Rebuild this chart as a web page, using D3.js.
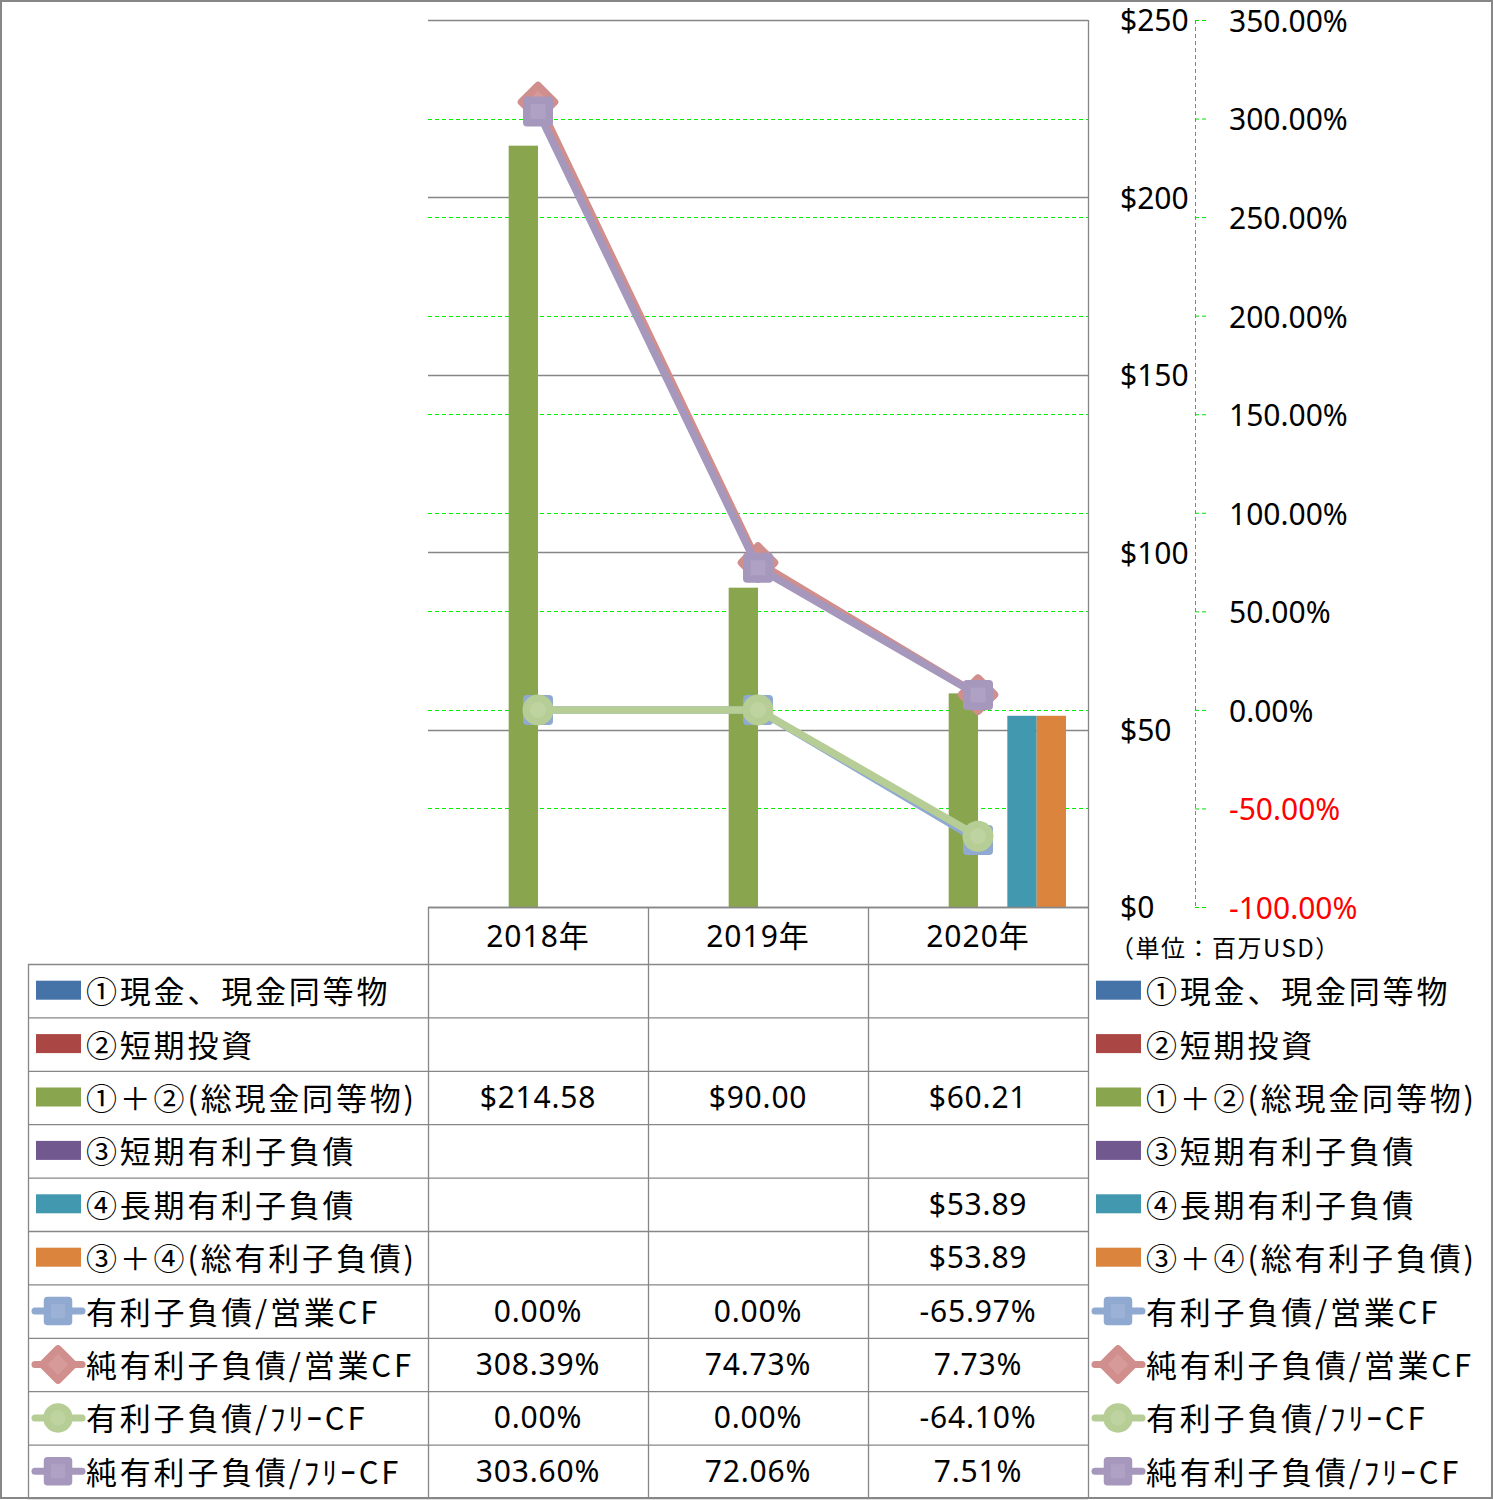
<!DOCTYPE html>
<html><head><meta charset="utf-8">
<script src="https://cdn.jsdelivr.net/npm/d3@7"></script>
<style>
body{margin:0;background:#fff;}
</style></head>
<body><svg id="c" width="1493" height="1500"></svg>
<script>
const categories = ["2018年","2019年","2020年"];
const barNames = ["①現金、現金同等物","②短期投資","①＋②(総現金同等物)","③短期有利子負債","④長期有利子負債","③＋④(総有利子負債)"];
const cashValues = [null,null,null];
const shortInvValues = [null,null,null];
const totalCashValues = [214.58,90.00,60.21];
const shortDebtValues = [null,null,null];
const longDebtValues = [null,null,53.89];
const totalDebtValues = [null,null,53.89];
const lineNames = ["有利子負債/営業CF","純有利子負債/営業CF","有利子負債/ﾌﾘｰCF","純有利子負債/ﾌﾘｰCF"];
const debtOpCF = [0.00,0.00,-65.97];
const netDebtOpCF = [308.39,74.73,7.73];
const debtFCF = [0.00,0.00,-64.10];
const netDebtFCF = [303.60,72.06,7.51];
const dollarTicks = [0,50,100,150,200,250];
const pctTicks = [-100,-50,0,50,100,150,200,250,300,350];
const unitLabel = "（単位：百万USD）";

const barColors = ["#4572A7","#AA4643","#89A54E","#71588F","#4198AF","#DB843D"];
const lineColors = ["#8FA9D0","#D08E8D","#B6CD96","#A697BD"];
const lineInner = ["#9BB2D6","#D69A99","#BED39F","#AEA1C3"];
const shapes = ["square","diamond","circle","square"];

const barData = [cashValues,shortInvValues,totalCashValues,shortDebtValues,longDebtValues,totalDebtValues];
const lineData = [debtOpCF,netDebtOpCF,debtFCF,netDebtFCF];

const LAT = "'Noto Sans', 'Noto Sans CJK JP', sans-serif";
const CJK = "'Noto Sans CJK JP', sans-serif";

const L=428,R=1088,T=20,B=907;
const svg = d3.select("#c");
const x = d3.scaleBand().domain(categories).range([L,R]);
const xi = d3.scaleBand().domain(d3.range(6)).range([22,198]);
const yL = d3.scaleLinear().domain([0,250]).range([B,T]);
const yR = d3.scaleLinear().domain([-100,350]).range([B,T]);

svg.append("g").selectAll("line").data(pctTicks).join("line")
  .attr("x1",L).attr("x2",R).attr("y1",d=>Math.round(yR(d))+0.5).attr("y2",d=>Math.round(yR(d))+0.5)
  .attr("stroke","#00F000").attr("stroke-width",1.2).attr("stroke-dasharray","4,3");
svg.append("g").selectAll("line").data(dollarTicks).join("line")
  .attr("x1",L).attr("x2",R).attr("y1",d=>Math.round(yL(d))+0.5).attr("y2",d=>Math.round(yL(d))+0.5)
  .attr("stroke","#868686").attr("stroke-width",1.3);
svg.append("line").attr("x1",R+0.5).attr("x2",R+0.5).attr("y1",T).attr("y2",B).attr("stroke","#868686").attr("stroke-width",1.3);

barData.forEach((vals,si)=>{
  svg.append("g").selectAll("rect").data(vals.map((v,i)=>({v,c:categories[i]})).filter(d=>d.v!=null)).join("rect")
    .attr("x",d=>x(d.c)+xi(si)).attr("width",xi.bandwidth())
    .attr("y",d=>yL(d.v)).attr("height",d=>yL(0)-yL(d.v))
    .attr("fill",barColors[si]);
});

function marker(g,shape,cx,cy,col,inner,scale){
  scale=scale||1;
  if(shape==="square"){
    const s=30*scale;
    g.append("rect").attr("x",cx-s/2).attr("y",cy-s/2).attr("width",s).attr("height",s).attr("rx",4*scale).attr("fill",col);
    g.append("rect").attr("x",cx-s/4).attr("y",cy-s/4).attr("width",s/2).attr("height",s/2).attr("fill",inner);
  } else if(shape==="diamond"){
    const s=31*scale;
    g.append("rect").attr("x",cx-s/2).attr("y",cy-s/2).attr("width",s).attr("height",s).attr("rx",4*scale)
      .attr("transform",`rotate(45,${cx},${cy})`).attr("fill",col);
    g.append("rect").attr("x",cx-s/4).attr("y",cy-s/4).attr("width",s/2).attr("height",s/2)
      .attr("transform",`rotate(45,${cx},${cy})`).attr("fill",inner);
  } else {
    g.append("circle").attr("cx",cx).attr("cy",cy).attr("r",15.5*scale).attr("fill",col);
    g.append("circle").attr("cx",cx).attr("cy",cy).attr("r",8*scale).attr("fill",inner);
  }
}

const line = d3.line().x((d,i)=>x(categories[i])+x.bandwidth()/2).y(d=>yR(d));
lineData.forEach((vals,si)=>{
  const g=svg.append("g");
  g.append("path").datum(vals).attr("d",line).attr("fill","none").attr("stroke",lineColors[si])
    .attr("stroke-width",7.5).attr("stroke-linejoin","round").attr("stroke-linecap","round");
  vals.forEach((v,i)=>marker(g,shapes[si],x(categories[i])+x.bandwidth()/2,yR(v),lineColors[si],lineInner[si]));
});

const axX = 1195;
const aL = svg.append("g").attr("transform",`translate(${axX},0)`)
  .call(d3.axisLeft(yL).tickValues(dollarTicks).tickSize(0).tickPadding(5).tickFormat(d=>"$"+d));
aL.select(".domain").remove();
aL.selectAll("text").attr("x",-75).attr("dy","0.36em").attr("text-anchor","start")
  .style("font-size","30px").style("font-family",LAT).style("fill","#000");
const aR = svg.append("g").attr("transform",`translate(${axX},0)`)
  .call(d3.axisRight(yR).tickValues(pctTicks).tickSize(12).tickPadding(22).tickFormat(d=>d.toFixed(2)+"%"));
aR.select(".domain").attr("stroke","#00E000").attr("stroke-dasharray","4,3").attr("d",`M0.5,${T}V${B}`);
aR.selectAll(".tick line").attr("stroke","#00E000").attr("stroke-dasharray","4,3");
aR.selectAll("text").attr("dy","0.38em").style("font-size","30px").style("font-family",LAT)
  .style("fill",d=>d<0?"#FF0000":"#000");
svg.append("text").attr("x",1110).attr("y",946).attr("dominant-baseline","central")
  .style("font-size","24px").style("font-family",CJK).style("letter-spacing","1.5px").text(unitLabel);

const rowH = (1498-964)/10;
const rowY = i=>964+i*rowH;
const tg = svg.append("g");
const gridCol="#878787";
tg.append("line").attr("x1",L).attr("x2",R).attr("y1",B+0.5).attr("y2",B+0.5).attr("stroke",gridCol).attr("stroke-width",1.3);
categories.forEach(c=>{
  tg.append("text").attr("x",x(c)+x.bandwidth()/2).attr("y",(B+964)/2).attr("text-anchor","middle")
    .attr("dominant-baseline","central").style("font-size","30px").style("font-family",LAT)
    .style("letter-spacing","1px").text(c);
});
for(let i=0;i<=10;i++){
  tg.append("line").attr("x1",28).attr("x2",R).attr("y1",rowY(i)+0.5).attr("y2",rowY(i)+0.5).attr("stroke",gridCol).attr("stroke-width",1.3);
}
tg.append("line").attr("x1",28.5).attr("x2",28.5).attr("y1",964).attr("y2",1498).attr("stroke",gridCol).attr("stroke-width",1.3);
[L,x(categories[1]),x(categories[2]),R].forEach(xx=>{
  tg.append("line").attr("x1",xx+0.5).attr("x2",xx+0.5).attr("y1",B).attr("y2",1498).attr("stroke",gridCol).attr("stroke-width",1.3);
});

const allNames = barNames.concat(lineNames);
const allVals = barData.concat(lineData);
function legendEntry(i,x0){
  const cy=rowY(i)+rowH/2;
  if(i<6){
    tg.append("rect").attr("x",x0+8).attr("y",cy-10).attr("width",45).attr("height",19).attr("fill",barColors[i]);
  } else {
    const k=i-6;
    tg.append("line").attr("x1",x0+7).attr("x2",x0+54).attr("y1",cy).attr("y2",cy).attr("stroke",lineColors[k])
      .attr("stroke-width",7).attr("stroke-linecap","round");
    marker(tg,shapes[k],x0+30,cy,lineColors[k],lineInner[k],0.95);
  }
  tg.append("text").attr("x",x0+58).attr("y",cy-1).attr("dominant-baseline","central")
    .style("font-size","31px").style("font-family",CJK).style("letter-spacing","2.8px").text(allNames[i]);
}
for(let i=0;i<10;i++){
  legendEntry(i,28);
  legendEntry(i,1088);
  const cy=rowY(i)+rowH/2;
  allVals[i].forEach((v,j)=>{
    if(v==null) return;
    tg.append("text").attr("x",x(categories[j])+x.bandwidth()/2).attr("y",cy-1).attr("text-anchor","middle")
      .attr("dominant-baseline","central").style("font-size","30px").style("font-family",LAT)
      .style("letter-spacing","0.8px")
      .text(i<6?"$"+v.toFixed(2):v.toFixed(2)+"%");
  });
}

svg.append("rect").attr("x",1).attr("y",1).attr("width",1491).attr("height",1497).attr("fill","none").attr("stroke","#878787").attr("stroke-width",2);
</script></body></html>
